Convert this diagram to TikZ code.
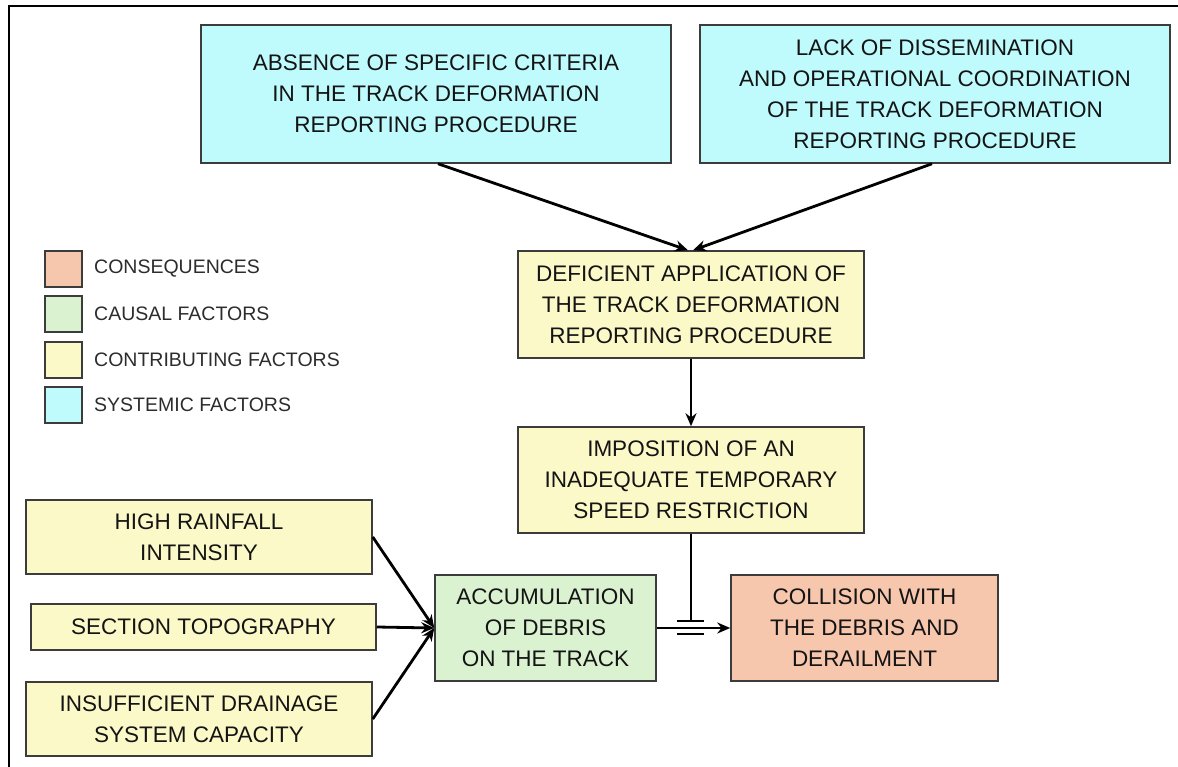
\documentclass[tikz,border=0pt]{standalone}
\usepackage{fontspec}
\setmainfont{Liberation Sans}
\usetikzlibrary{arrows.meta,calc}
\definecolor{sysfill}{RGB}{191,250,252}
\definecolor{confill}{RGB}{251,249,199}
\definecolor{caufill}{RGB}{218,242,208}
\definecolor{csqfill}{RGB}{246,198,173}
\definecolor{boxline}{RGB}{60,60,60}
\definecolor{txt}{RGB}{20,20,20}
\tikzset{
  box/.style={draw=boxline, line width=1.5pt, inner sep=0pt, align=center,
    text=txt, font=\fontsize{22.5}{31}\selectfont},
  legsq/.style={draw=boxline, line width=1.5pt, inner sep=0pt, minimum width=37pt, minimum height=36pt},
  legtxt/.style={anchor=west, inner sep=0pt, text=txt!90, font=\fontsize{19.5}{24}\selectfont},
  conn/.style={line width=2.8pt, -{Stealth[length=13pt,width=11pt]}},
  plain/.style={line width=2.8pt},
}
\begin{document}
\begin{tikzpicture}[x=1pt,y=-1pt]
\useasboundingbox (0,0) rectangle (1178,767);
\fill[white] (0,0) rectangle (1178,767);
\draw[line width=2pt] (9,767) -- (9,6) -- (1178,6);

\node[box, fill=sysfill, minimum width=470pt, minimum height=138pt] (S1) at (436,94)
  {\raisebox{3pt}{\parbox{460pt}{\centering ABSENCE OF SPECIFIC CRITERIA\\IN THE TRACK DEFORMATION\\REPORTING PROCEDURE}}};
\node[box, fill=sysfill, minimum width=470pt, minimum height=138pt] (S2) at (935,94)
  {LACK OF DISSEMINATION\\AND OPERATIONAL COORDINATION\\OF THE TRACK DEFORMATION\\REPORTING PROCEDURE};
\node[box, fill=confill, minimum width=346pt, minimum height=107pt] (D) at (691,304.5)
  {DEFICIENT APPLICATION OF\\THE TRACK DEFORMATION\\REPORTING PROCEDURE};
\node[box, fill=confill, minimum width=346pt, minimum height=106pt] (I) at (691,480)
  {IMPOSITION OF AN\\INADEQUATE TEMPORARY\\SPEED RESTRICTION};
\node[box, fill=confill, minimum width=346pt, minimum height=74pt] (H) at (199,537)
  {HIGH RAINFALL\\INTENSITY};
\node[box, fill=confill, minimum width=345pt, minimum height=46pt] (T) at (203.5,627)
  {SECTION TOPOGRAPHY};
\node[box, fill=confill, minimum width=346pt, minimum height=74pt] (N) at (199,719)
  {INSUFFICIENT DRAINAGE\\SYSTEM CAPACITY};
\node[box, fill=caufill, minimum width=221pt, minimum height=106pt] (A) at (545.5,628)
  {ACCUMULATION\\OF DEBRIS\\ON THE TRACK};
\node[box, fill=csqfill, minimum width=267pt, minimum height=106pt] (C) at (864.5,628)
  {COLLISION WITH\\THE DEBRIS AND\\DERAILMENT};

% legend
\node[legsq, fill=csqfill] (L1) at (63.5,269) {};
\node[legsq, fill=caufill] (L2) at (63.5,314) {};
\node[legsq, fill=confill] (L3) at (63.5,360) {};
\node[legsq, fill=sysfill] (L4) at (63.5,405) {};
\node[legtxt] (T1) at (94,269) {CONSEQUENCES};
\node[legtxt] (T2) at (94,314) {CAUSAL FACTORS};
\node[legtxt] (T3) at (94,360) {CONTRIBUTING FACTORS};
\node[legtxt] (T4) at (94,405) {SYSTEMIC FACTORS};

% connectors
\draw[conn] ([xshift=2pt]S1.south) -- ([xshift=-3pt]D.north);
\draw[conn] ([xshift=-3pt]S2.south) -- ([xshift=2pt]D.north);
\draw[conn] (D.south) -- (I.north);
\draw[conn] (H.east) -- (A.west);
\draw[conn] (T.east) -- (A.west);
\draw[conn] (N.east) -- (A.west);
\draw[conn] (A.east) -- (C.west);
\coordinate (J) at (I.south |- A.east);
\draw[plain] (I.south) -- ($(J)+(0,-7)$);
\draw[plain] ($(J)+(-14,-7)$) -- ($(J)+(13,-7)$);
\draw[plain] ($(J)+(-14,6)$) -- ($(J)+(13,6)$);
\end{tikzpicture}
\end{document}
